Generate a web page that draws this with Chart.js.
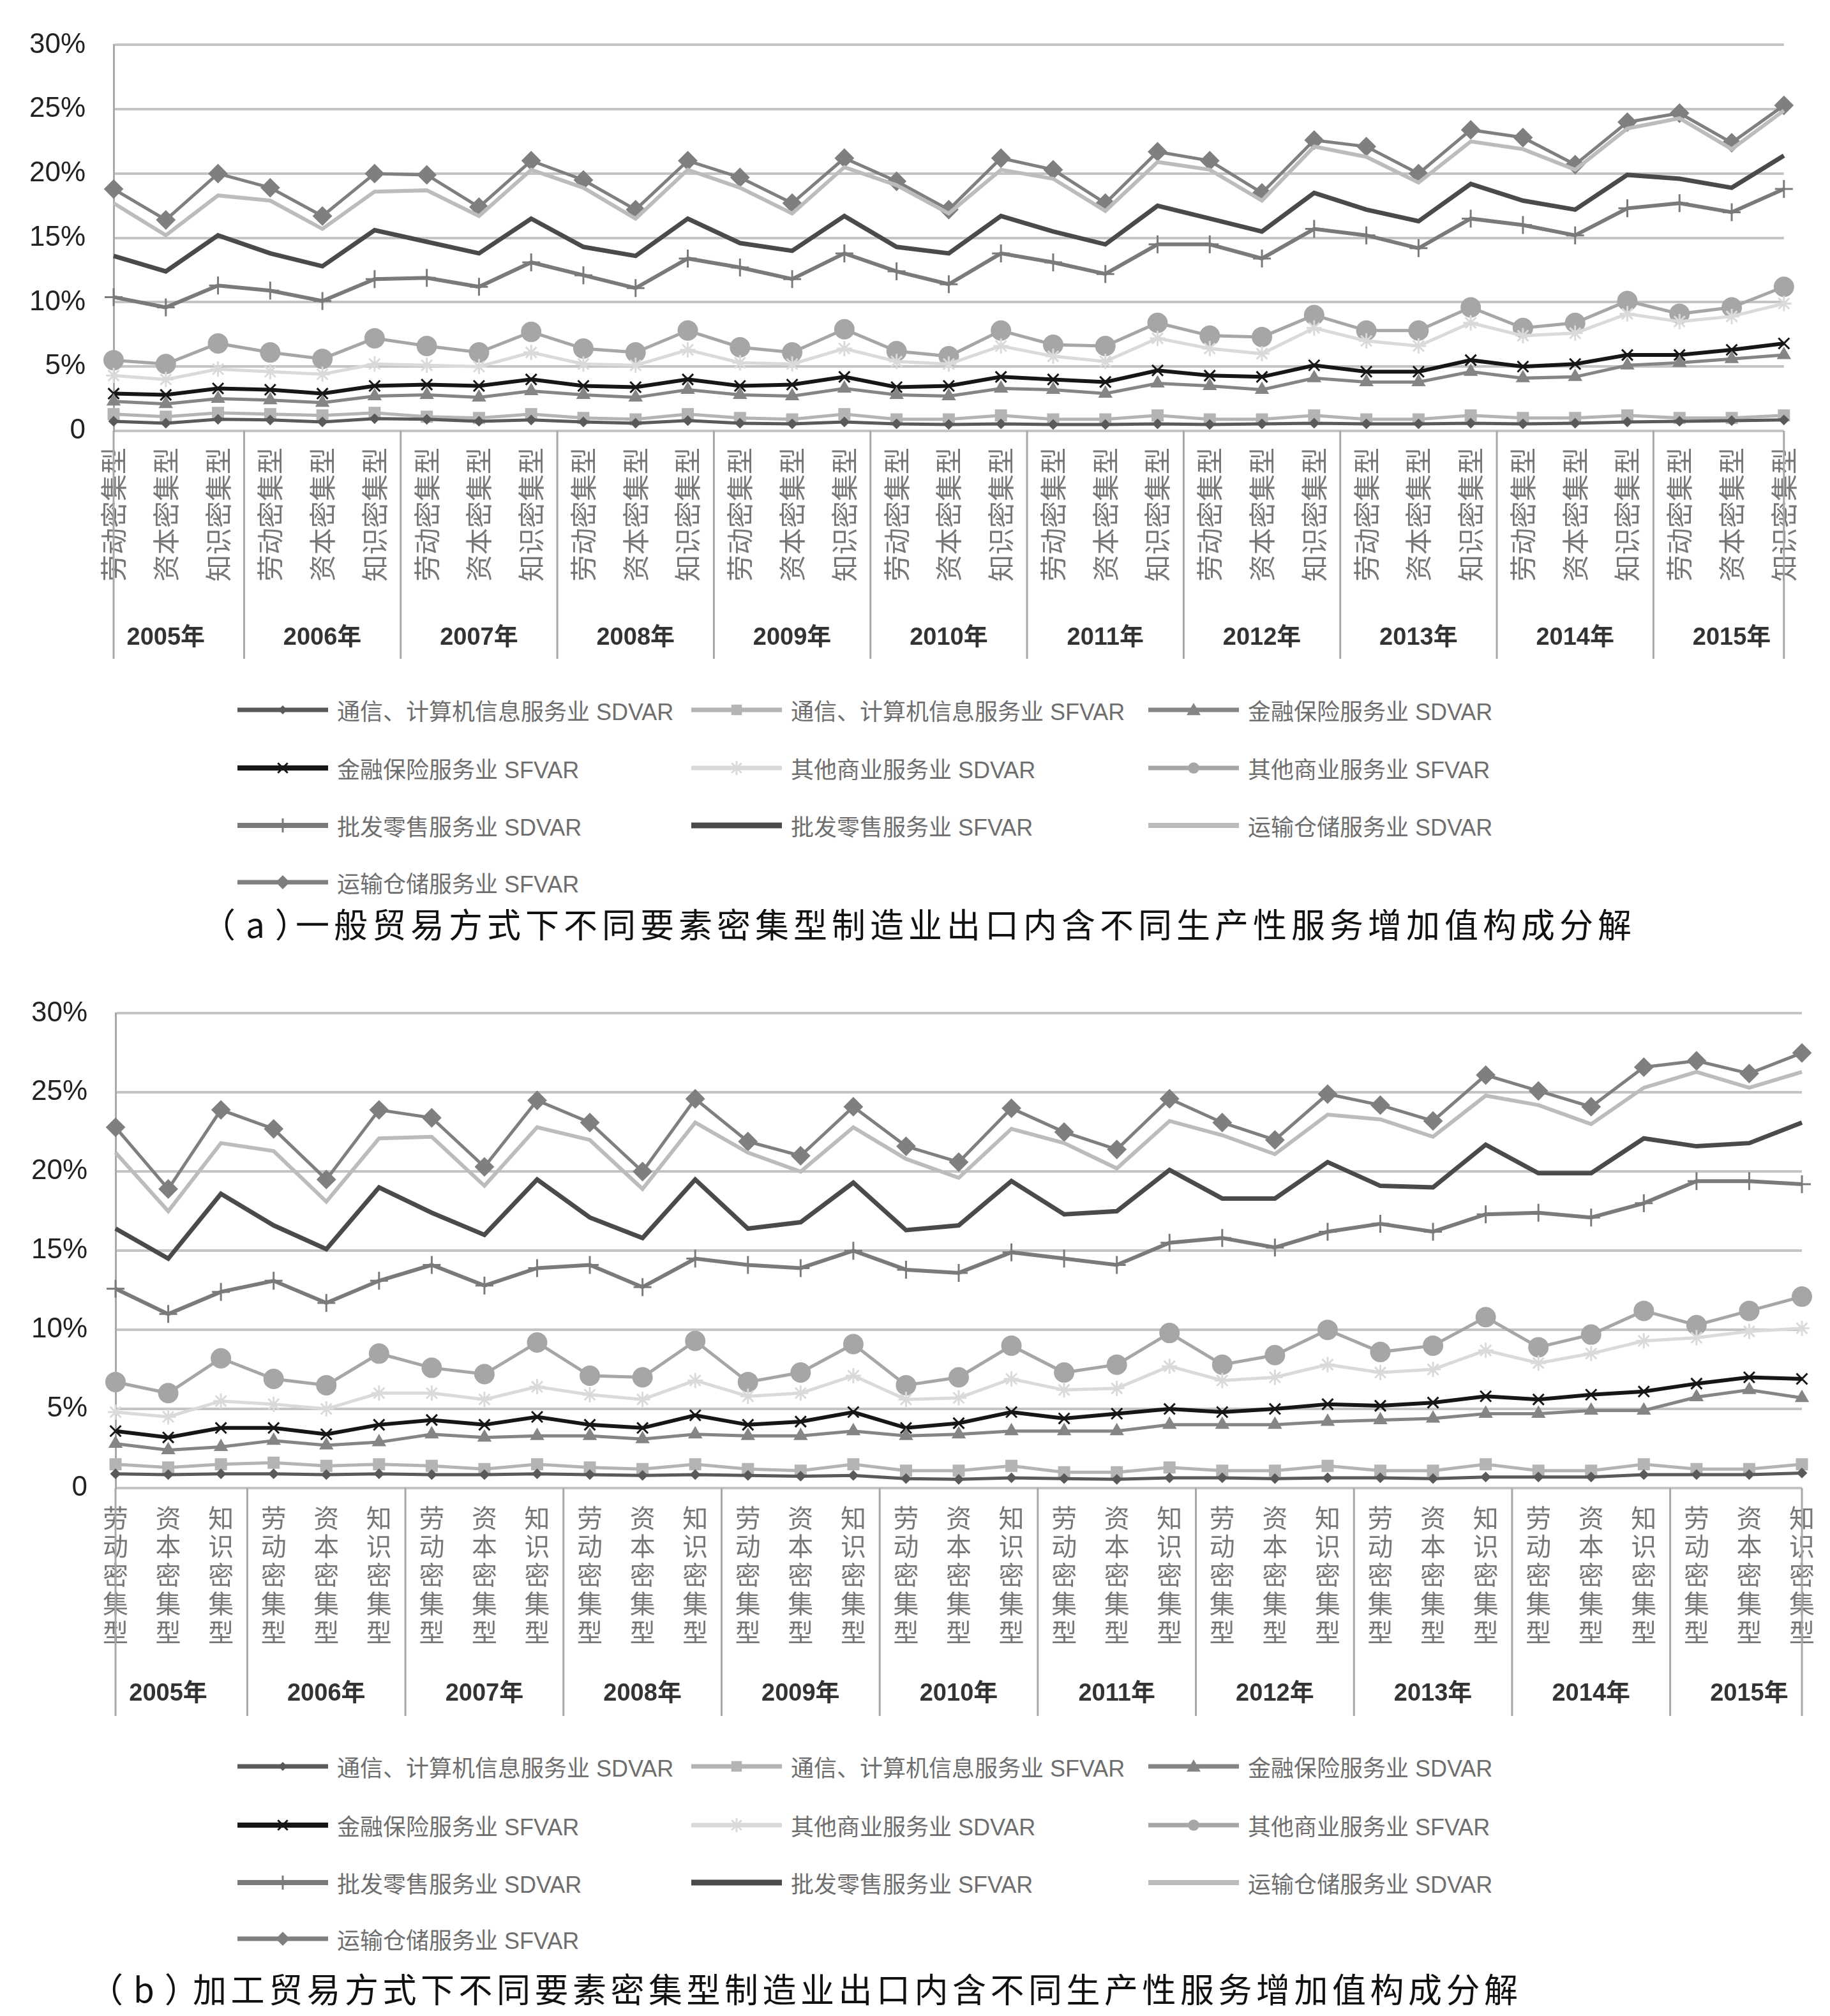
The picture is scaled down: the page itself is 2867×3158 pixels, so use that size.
<!DOCTYPE html>
<html>
<head>
<meta charset="utf-8">
<script src="https://cdn.jsdelivr.net/npm/chart.js@4.4.1/dist/chart.umd.min.js"></script>
<style>
  html,body{margin:0;padding:0;background:#fff;}
  body{width:2867px;height:3158px;position:relative;overflow:hidden;}
  .wrap{position:absolute;left:0;width:2867px;}
  .leg{position:absolute;height:50px;display:flex;align-items:center;
       font-family:"Liberation Sans","Noto Sans CJK SC",sans-serif;font-size:36px;color:#6e6e6e;white-space:nowrap;}
  .leg svg{margin-right:14px;}
  .cap{position:absolute;font-family:"Noto Sans CJK SC",sans-serif;font-size:53px;color:#111;white-space:nowrap;line-height:60px;}
</style>
</head>
<body>
<div class="wrap" id="wa" style="top:0;height:1060px;"><canvas id="ca"></canvas></div>
<div id="legA"></div>
<div class="cap" style="left:316px;top:1416px;letter-spacing:16px;">（a）</div>
<div class="cap" style="left:463px;top:1416px;letter-spacing:7px;">一般贸易方式下不同要素密集型制造业出口内含不同生产性服务增加值构成分解</div>
<div class="wrap" id="wb" style="top:1517px;height:1200px;"><canvas id="cb"></canvas></div>
<div id="legB"></div>
<div class="cap" style="left:140px;top:3084px;letter-spacing:16px;">（b）</div>
<div class="cap" style="left:302px;top:3084px;letter-spacing:6.5px;">加工贸易方式下不同要素密集型制造业出口内含不同生产性服务增加值构成分解</div>

<script>
// ---------------- data ----------------
const years = ['2005年','2006年','2007年','2008年','2009年','2010年','2011年','2012年','2013年','2014年','2015年'];
const intensity = ['劳动密集型','资本密集型','知识密集型'];
const yTicks = [0,5,10,15,20,25,30];

const seriesNames = [
  '通信、计算机信息服务业 SDVAR','通信、计算机信息服务业 SFVAR',
  '金融保险服务业 SDVAR','金融保险服务业 SFVAR',
  '其他商业服务业 SDVAR','其他商业服务业 SFVAR',
  '批发零售服务业 SDVAR','批发零售服务业 SFVAR',
  '运输仓储服务业 SDVAR','运输仓储服务业 SFVAR'
];

// (a) 一般贸易
const aComSD   = [0.75,0.6,0.9, 0.85,0.7,0.95, 0.9,0.75,0.85, 0.7,0.6,0.8, 0.6,0.55,0.7, 0.55,0.5,0.55, 0.5,0.5,0.55, 0.5,0.55,0.6, 0.55,0.55,0.6, 0.55,0.6,0.7, 0.75,0.8,0.85];
const aComSF   = [1.3,1.1,1.4, 1.3,1.2,1.4, 1.1,1.0,1.3, 1.0,0.9,1.3, 1.0,0.9,1.3, 0.9,0.9,1.2, 0.9,0.9,1.2, 0.9,0.9,1.2, 0.9,0.9,1.2, 1.0,1.0,1.2, 1.0,1.0,1.2];
const aFinSD   = [2.3,2.1,2.5, 2.4,2.2,2.7, 2.8,2.6,3.1, 2.8,2.6,3.2, 2.8,2.7,3.3, 2.8,2.7,3.3, 3.2,2.9,3.7, 3.5,3.2,4.1, 3.8,3.8,4.6, 4.1,4.2,5.1, 5.3,5.6,5.9];
const aFinSF   = [2.9,2.8,3.3, 3.2,2.9,3.5, 3.6,3.5,4.0, 3.5,3.4,4.0, 3.5,3.6,4.2, 3.4,3.5,4.2, 4.0,3.8,4.7, 4.3,4.2,5.1, 4.6,4.6,5.5, 5.0,5.2,5.9, 5.9,6.3,6.8];
const aOthSD   = [4.3,4.0,4.8, 4.6,4.4,5.2, 5.1,5.0,6.1, 5.2,5.1,6.3, 5.3,5.2,6.4, 5.4,5.2,6.6, 5.8,5.4,7.2, 6.4,6.0,8.0, 7.0,6.6,8.4, 7.4,7.6,9.1, 8.5,8.9,9.9];
const aOthSF   = [5.5,5.2,6.8, 6.1,5.6,7.2, 6.6,6.1,7.7, 6.4,6.1,7.8, 6.5,6.1,7.9, 6.2,5.8,7.8, 6.7,6.6,8.4, 7.4,7.3,9.0, 7.8,7.8,9.6, 8.0,8.4,10.1, 9.1,9.6,11.2];
const aWhoSD   = [10.4,9.6,11.3, 10.9,10.1,11.8, 11.9,11.2,13.1, 12.1,11.1,13.4, 12.7,11.8,13.8, 12.4,11.4,13.8, 13.1,12.2,14.5, 14.5,13.4,15.7, 15.2,14.2,16.5, 16.0,15.2,17.3, 17.7,17.0,18.8];
const aWhoSF   = [13.6,12.4,15.2, 13.8,12.8,15.6, 14.7,13.8,16.5, 14.3,13.6,16.5, 14.6,14.0,16.7, 14.3,13.8,16.7, 15.5,14.5,17.5, 16.5,15.5,18.5, 17.2,16.3,19.2, 17.9,17.2,19.9, 19.6,18.9,21.4];
const aTraSD   = [17.7,15.2,18.3, 17.9,15.7,18.6, 18.7,16.7,20.3, 18.9,16.5,20.3, 18.9,16.9,20.5, 19.1,16.9,20.3, 19.6,17.1,20.9, 20.3,17.9,22.1, 21.3,19.3,22.5, 21.9,20.3,23.5, 24.3,21.9,24.9];
const aTraSF   = [18.8,16.4,20.0, 18.9,16.7,20.0, 19.9,17.4,21.0, 19.5,17.2,21.0, 19.7,17.7,21.2, 19.4,17.2,21.2, 20.3,17.7,21.7, 21.0,18.5,22.6, 22.1,20.0,23.4, 22.8,20.7,24.0, 24.7,22.4,25.3];

// (b) 加工贸易
const bComSD   = [0.9,0.85,0.9, 0.9,0.85,0.9, 0.85,0.85,0.9, 0.85,0.8,0.85, 0.8,0.75,0.8, 0.6,0.55,0.65, 0.6,0.55,0.65, 0.65,0.6,0.65, 0.65,0.6,0.7, 0.7,0.7,0.85, 0.85,0.85,0.95];
const bComSF   = [1.5,1.3,1.5, 1.6,1.4,1.5, 1.4,1.2,1.5, 1.3,1.2,1.5, 1.2,1.1,1.5, 1.1,1.1,1.4, 1.0,1.0,1.3, 1.1,1.1,1.4, 1.1,1.1,1.5, 1.1,1.1,1.5, 1.2,1.2,1.5];
const bFinSD   = [2.8,2.4,2.6, 3.0,2.7,2.9, 3.4,3.2,3.3, 3.3,3.1,3.4, 3.3,3.3,3.6, 3.3,3.4,3.6, 3.6,3.6,4.0, 4.0,4.0,4.2, 4.3,4.4,4.7, 4.7,4.9,4.9, 5.75,6.2,5.7];
const bFinSF   = [3.6,3.2,3.8, 3.8,3.4,4.0, 4.3,4.0,4.5, 4.0,3.8,4.6, 4.0,4.2,4.8, 3.8,4.1,4.8, 4.4,4.7,5.0, 4.8,5.0,5.3, 5.2,5.4,5.8, 5.6,5.9,6.1, 6.6,7.0,6.9];
const bOthSD   = [4.8,4.5,5.5, 5.3,5.0,6.0, 6.0,5.6,6.4, 5.9,5.6,6.8, 5.8,6.0,7.1, 5.6,5.7,6.9, 6.2,6.3,7.7, 6.8,7.0,7.8, 7.3,7.5,8.7, 7.9,8.5,9.3, 9.5,9.9,10.1];
const bOthSF   = [6.7,6.0,8.2, 6.9,6.5,8.5, 7.6,7.2,9.2, 7.1,7.0,9.3, 6.7,7.3,9.1, 6.5,7.0,9.0, 7.3,7.8,9.8, 7.8,8.4,10.0, 8.6,9.0,10.8, 8.9,9.7,11.2, 10.3,11.2,12.1];
const bWhoSD   = [12.6,11.0,12.4, 13.1,11.7,13.1, 14.1,12.8,13.9, 14.1,12.7,14.5, 14.1,13.9,15.0, 13.8,13.6,14.9, 14.5,14.1,15.5, 15.8,15.2,16.2, 16.7,16.2,17.3, 17.4,17.1,18.0, 19.4,19.4,19.2];
const bWhoSF   = [16.4,14.5,18.6, 16.6,15.1,19.0, 17.4,16.0,19.5, 17.1,15.8,19.5, 16.4,16.8,19.3, 16.3,16.6,19.4, 17.3,17.5,20.1, 18.3,18.3,20.6, 19.1,19.0,21.7, 19.9,19.9,22.1, 21.6,21.8,23.1];
const bTraSD   = [21.2,17.5,21.8, 21.3,18.1,22.1, 22.2,19.1,22.8, 22.0,18.9,23.1, 21.2,20.0,22.8, 20.8,19.6,22.7, 21.8,20.2,23.2, 22.3,21.1,23.6, 23.3,22.2,24.8, 24.2,23.0,25.3, 26.3,25.3,26.3];
const bTraSF   = [22.8,18.9,23.9, 22.7,19.5,23.9, 23.4,20.3,24.5, 23.1,20.0,24.6, 21.9,21.0,24.1, 21.6,20.6,24.0, 22.5,21.4,24.6, 23.1,22.0,24.9, 24.2,23.2,26.1, 25.1,24.1,26.6, 27.0,26.2,27.5];

// ---------------- styles ----------------
const styles = [
  {c:'#5a5a5a', w:5, p:'rectRot',  r:7,  bw:2},
  {c:'#b4b4b4', w:5, p:'rect',     r:12, bw:2},
  {c:'#858585', w:5, p:'triangle', r:11, bw:2},
  {c:'#161616', w:6, p:'crossRot', r:12, bw:3},
  {c:'#dadada', w:5, p:'star',     r:12, bw:3},
  {c:'#a6a6a6', w:5, p:'circle',   r:15, bw:2},
  {c:'#7a7a7a', w:6, p:'cross',    r:14, bw:3},
  {c:'#4a4a4a', w:7, p:false,      r:0,  bw:0},
  {c:'#bcbcbc', w:6, p:false,      r:0,  bw:0},
  {c:'#7f7f7f', w:5, p:'rectRot',  r:14, bw:2}
];

const labelsA = [];
const labelsB = [];
years.forEach(()=>intensity.forEach(t=>{ labelsA.push(t); labelsB.push(t.split('')); }));

function makeDatasets(arrs){
  return arrs.map((d,i)=>{
    const s = styles[i];
    return {
      label: seriesNames[i], data: d,
      borderColor: s.c, backgroundColor: s.c,
      borderWidth: s.w, tension: 0,
      pointStyle: s.p || 'circle', pointRadius: s.r, pointHoverRadius: s.r,
      pointBorderWidth: s.bw, pointBackgroundColor: s.c, pointBorderColor: s.c
    };
  });
}

const yearGroups = {
  id: 'yearGroups',
  afterDraw(chart, args, opts){
    const {ctx, chartArea} = chart;
    const x = chart.scales.x;
    const n = years.length, per = intensity.length;
    ctx.save();
    ctx.strokeStyle = '#a8a8a8';
    ctx.lineWidth = 3;
    for(let g=0; g<=n; g++){
      let bx;
      if(g===0) bx = chartArea.left;
      else if(g===n) bx = chartArea.right;
      else bx = (x.getPixelForValue(g*per-1) + x.getPixelForValue(g*per))/2;
      ctx.beginPath();
      ctx.moveTo(bx, chartArea.bottom);
      ctx.lineTo(bx, opts.bottom);
      ctx.stroke();
    }
    ctx.fillStyle = '#333';
    ctx.font = 'bold 38px "Liberation Sans", "Noto Sans CJK SC", sans-serif';
    ctx.textAlign = 'center';
    ctx.textBaseline = 'middle';
    for(let g=0; g<n; g++){
      ctx.fillText(years[g], x.getPixelForValue(g*per+1), opts.labelY);
    }
    ctx.restore();
  }
};

function makeChart(id, labels, datasets, cfg){
  return new Chart(document.getElementById(id), {
    type: 'line',
    data: { labels, datasets },
    plugins: [yearGroups],
    options: {
      responsive: true, maintainAspectRatio: false, animation: false,
      devicePixelRatio: 1,
      layout: { padding: { top: cfg.top, right: cfg.right, left: 0, bottom: 0 } },
      plugins: {
        legend: { display: false }, tooltip: { enabled: false },
        yearGroups: { labelY: cfg.yearY, bottom: cfg.sepBottom }
      },
      scales: {
        y: {
          min: 0, max: 30,
          afterBuildTicks: s => { s.ticks = yTicks.map(v=>({value:v})); },
          afterFit: s => { s.width = cfg.left; },
          grid: { color: '#c4c4c4', lineWidth: 4, drawTicks: false },
          border: { display: true, color: '#a8a8a8', width: 3 },
          ticks: {
            padding: 44, color: '#222',
            font: { family: '"Liberation Sans", sans-serif', size: 44 },
            callback: v => v === 0 ? '0' : v + '%'
          }
        },
        x: {
          afterFit: s => { s.height = cfg.xh; },
          grid: { display: false, drawTicks: false },
          border: { display: false },
          ticks: Object.assign({
            autoSkip: false, color: '#777',
            font: { family: '"Noto Sans CJK SC", sans-serif', size: cfg.catSize, lineHeight: cfg.catLH }
          }, cfg.tickExtra)
        }
      }
    }
  });
}

makeChart('ca', labelsA,
  makeDatasets([aComSD,aComSF,aFinSD,aFinSF,aOthSD,aOthSF,aWhoSD,aWhoSF,aTraSD,aTraSF]),
  { top: 59, right: 31, left: 178, xh: 1060-675, yearY: 1000, sepBottom: 1032,
    catSize: 42, catLH: 1.1, tickExtra: { minRotation: 90, maxRotation: 90, padding: 26 } });

makeChart('cb', labelsB,
  makeDatasets([bComSD,bComSF,bFinSD,bFinSF,bOthSD,bOthSF,bWhoSD,bWhoSF,bTraSD,bTraSF]),
  { top: 59, right: 29, left: 181, xh: 1200-814, yearY: 1137, sepBottom: 1171,
    catSize: 40, catLH: 1.12, tickExtra: { minRotation: 0, maxRotation: 0, padding: 24 } });

// ---------------- HTML legends ----------------
function markerSVG(s){
  const W = 142, H = 44, cx = 71, cy = 22;
  let m = '';
  const r = Math.min(s.r, 11);
  switch(s.p){
    case 'rectRot': m = `<polygon points="${cx},${cy-r} ${cx+r},${cy} ${cx},${cy+r} ${cx-r},${cy}" fill="${s.c}"/>`; break;
    case 'rect': m = `<rect x="${cx-r*0.75}" y="${cy-r*0.75}" width="${r*1.5}" height="${r*1.5}" fill="${s.c}"/>`; break;
    case 'triangle': m = `<polygon points="${cx},${cy-r} ${cx+r},${cy+r*0.75} ${cx-r},${cy+r*0.75}" fill="${s.c}"/>`; break;
    case 'circle': m = `<circle cx="${cx}" cy="${cy}" r="${r*0.8}" fill="${s.c}"/>`; break;
    case 'crossRot': m = `<path d="M${cx-r*0.7},${cy-r*0.7}L${cx+r*0.7},${cy+r*0.7}M${cx+r*0.7},${cy-r*0.7}L${cx-r*0.7},${cy+r*0.7}" stroke="${s.c}" stroke-width="3"/>`; break;
    case 'star': m = `<path d="M${cx-r*0.7},${cy-r*0.7}L${cx+r*0.7},${cy+r*0.7}M${cx+r*0.7},${cy-r*0.7}L${cx-r*0.7},${cy+r*0.7}M${cx},${cy-r}L${cx},${cy+r}" stroke="${s.c}" stroke-width="3"/>`; break;
    case 'cross': m = `<path d="M${cx},${cy-r}L${cx},${cy+r}M${cx-r},${cy}L${cx+r},${cy}" stroke="${s.c}" stroke-width="3"/>`; break;
    default: m = '';
  }
  return `<svg width="${W}" height="${H}"><line x1="0" y1="${cy}" x2="${W}" y2="${cy}" stroke="${s.c}" stroke-width="${s.w+2}"/>${m}</svg>`;
}
function buildLegend(id, rows){
  const colX = [372, 1083, 1799];
  const el = document.getElementById(id);
  seriesNames.forEach((name,i)=>{
    const d = document.createElement('div');
    d.className = 'leg';
    d.style.left = colX[i%3] + 'px';
    d.style.top = (rows[Math.floor(i/3)] - 25) + 'px';
    d.innerHTML = markerSVG(styles[i]) + '<span>' + name + '</span>';
    el.appendChild(d);
  });
}
buildLegend('legA', [1112, 1203, 1293, 1382]);
buildLegend('legB', [2767, 2859, 2949, 3037]);
</script>
</body>
</html>
